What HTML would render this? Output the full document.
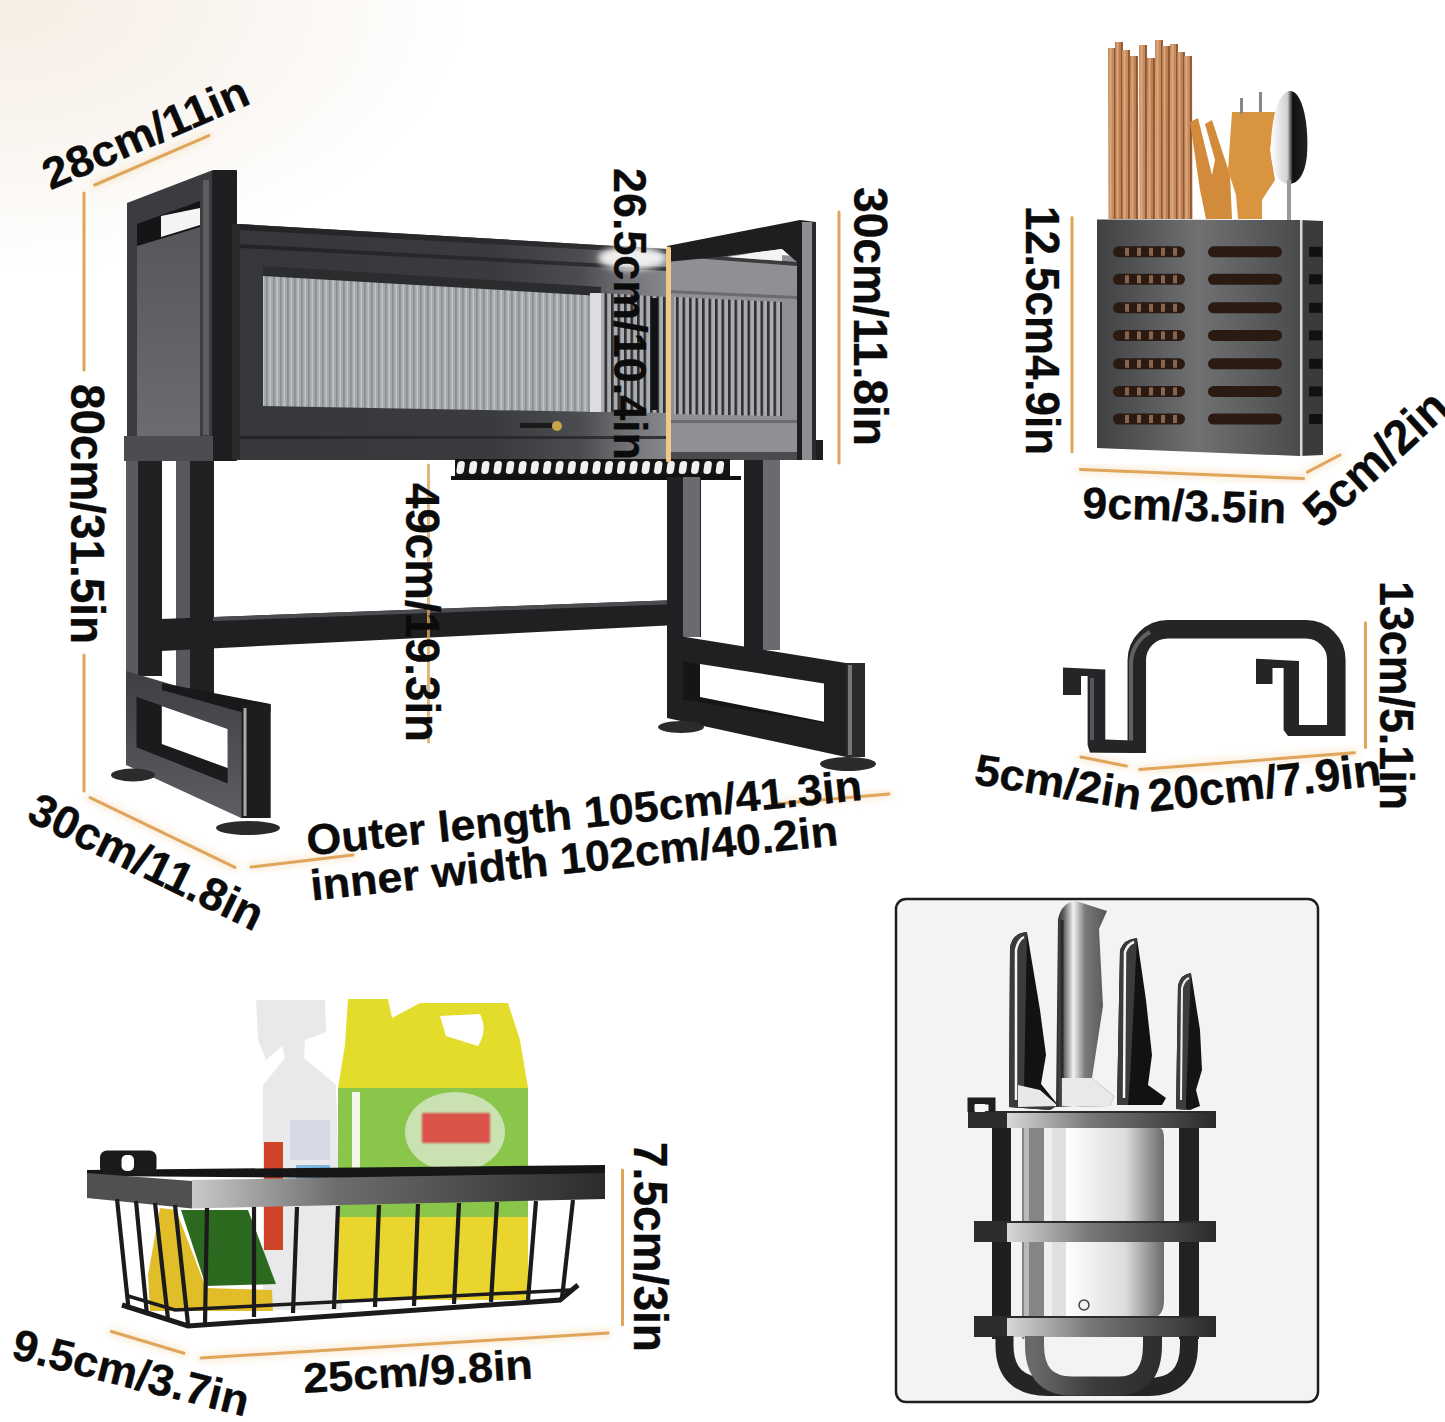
<!DOCTYPE html>
<html><head><meta charset="utf-8"><style>
html,body{margin:0;padding:0;background:#fff;}
svg{display:block;}
.t{font-family:"Liberation Sans",sans-serif;font-weight:bold;fill:#0b0b0b;stroke:#0b0b0b;stroke-width:0.35;}
</style></head><body>
<svg width="1445" height="1422" viewBox="0 0 1445 1422">

<defs>
 <radialGradient id="bgw" cx="0" cy="0" r="320" gradientUnits="userSpaceOnUse" gradientTransform="scale(1.45,0.85)">
  <stop offset="0" stop-color="#f6eee4"/>
  <stop offset="0.45" stop-color="#f9f4ee"/>
  <stop offset="1" stop-color="#ffffff"/>
 </radialGradient>
 <linearGradient id="panelL" x1="0" y1="0" x2="0" y2="1">
  <stop offset="0" stop-color="#55575a"/><stop offset="1" stop-color="#6a6c6f"/>
 </linearGradient>
 <linearGradient id="stripesG" x1="0" y1="0" x2="1" y2="0">
  <stop offset="0" stop-color="#9ea1a4"/><stop offset="0.85" stop-color="#b5b7ba"/><stop offset="1" stop-color="#d8d9da"/>
 </linearGradient>
 <pattern id="stripes" width="7" height="20" patternUnits="userSpaceOnUse">
  <rect width="7" height="20" fill="#a6a8ab"/>
  <rect x="0" width="1.6" height="20" fill="#8a8d90"/>
  <rect x="3.5" width="1.5" height="20" fill="#bfc1c3"/>
 </pattern>
 <pattern id="stripesR" width="6.5" height="20" patternUnits="userSpaceOnUse">
  <rect width="6.5" height="20" fill="#a9abae"/>
  <rect x="0" width="2.6" height="20" fill="#2e2f32"/>
 </pattern>
 <linearGradient id="boxG" x1="0" y1="0" x2="1" y2="0">
  <stop offset="0" stop-color="#3f4042"/><stop offset="0.5" stop-color="#707173"/><stop offset="1" stop-color="#4a4b4d"/>
 </linearGradient>
 <linearGradient id="spoonG" x1="0" y1="0" x2="1" y2="0">
  <stop offset="0" stop-color="#ffffff"/><stop offset="0.45" stop-color="#d0d0d0"/><stop offset="0.6" stop-color="#111"/><stop offset="1" stop-color="#222"/>
 </linearGradient>
 <linearGradient id="cleaverG" x1="0" y1="0" x2="1" y2="0">
  <stop offset="0" stop-color="#ffffff"/><stop offset="0.6" stop-color="#dcdcdc"/><stop offset="1" stop-color="#6a6a6a"/>
 </linearGradient>
 <linearGradient id="barG" x1="0" y1="0" x2="1" y2="0">
  <stop offset="0" stop-color="#d8d8d8"/><stop offset="0.4" stop-color="#777"/><stop offset="1" stop-color="#2a2a2a"/>
 </linearGradient>
 <linearGradient id="handleG" x1="0" y1="0" x2="1" y2="0">
  <stop offset="0" stop-color="#2a2a2a"/><stop offset="0.12" stop-color="#555"/><stop offset="0.3" stop-color="#f2f2f2"/><stop offset="0.5" stop-color="#7a7a7a"/><stop offset="1" stop-color="#4a4a4a"/>
 </linearGradient>
 <linearGradient id="rimG" x1="0" y1="0" x2="1" y2="0">
  <stop offset="0" stop-color="#c9c9c9"/><stop offset="0.35" stop-color="#6d6d6d"/><stop offset="1" stop-color="#2b2b2b"/>
 </linearGradient>
 <filter id="glow" x="-50%" y="-50%" width="200%" height="200%"><feGaussianBlur stdDeviation="3"/></filter>
 <filter id="blur1"><feGaussianBlur stdDeviation="1"/></filter>
</defs>

<rect width="1445" height="1422" fill="url(#bgw)"/>
<polygon points="127.0,203.0 213.0,170.0 237.0,170.0 237.0,461.0 124.0,461.0 124.0,436.0 127.0,436.0" fill="#3b3c3f" />
<polygon points="137.0,246.0 200.0,227.0 200.0,436.0 137.0,436.0" fill="url(#panelL)" />
<polygon points="137.0,224.0 200.0,201.0 200.0,227.0 137.0,246.0" fill="#141516" />
<polygon points="161.0,216.0 200.0,208.0 200.0,225.0 161.0,237.0" fill="#f4f4f4" />
<rect x="212" y="170" width="25" height="291" fill="#1d1e20" rx="3"/>
<rect x="203" y="180" width="6" height="255" fill="#5c5e61" />
<rect x="124" y="436" width="89" height="25" fill="#4c4d50" />
<linearGradient id="cabG" gradientUnits="userSpaceOnUse" x1="239" y1="0" x2="667" y2="0"><stop offset="0" stop-color="#36373a"/><stop offset="0.6" stop-color="#3a3b3e"/><stop offset="0.8" stop-color="#4c4d50"/><stop offset="0.9" stop-color="#6e7073"/><stop offset="1" stop-color="#86888b"/></linearGradient>
<linearGradient id="cabLine" gradientUnits="userSpaceOnUse" x1="239" y1="0" x2="667" y2="0"><stop offset="0" stop-color="#222325"/><stop offset="0.7" stop-color="#2a2b2d"/><stop offset="1" stop-color="#333436"/></linearGradient>
<polygon points="239.0,224.0 667.0,249.0 667.0,460.0 239.0,460.0" fill="url(#cabG)" />
<polygon points="239.0,224.0 667.0,249.0 667.0,254.0 239.0,230.0" fill="url(#cabLine)" />
<polygon points="239.0,244.0 667.0,267.0 667.0,271.0 239.0,248.0" fill="url(#cabLine)" />
<polygon points="263.0,272.0 601.0,293.0 601.0,412.0 263.0,406.0" fill="url(#stripes)" />
<polygon points="263.0,266.0 601.0,287.0 601.0,296.0 263.0,276.0" fill="#2b2c2e" />
<polygon points="601.0,293.0 667.0,297.0 667.0,413.0 601.0,412.0" fill="url(#stripesR)" />
<rect x="651" y="298" width="7" height="112" fill="#111214" />
<polygon points="590.0,293.0 601.0,293.0 601.0,412.0 590.0,412.0" fill="#dcdddf" />
<rect x="239" y="436" width="428" height="3" fill="url(#cabLine)" />
<circle cx="557" cy="426" r="5" fill="#c9a54a"/><rect x="520" y="423" width="32" height="5" fill="#1a1a1a"/>
<rect x="232" y="224" width="8" height="236" fill="#2a2b2d" />
<ellipse cx="632" cy="258" rx="34" ry="12" fill="#eeeeee" filter="url(#glow)"/>
<polygon points="667.0,249.0 797.0,256.0 797.0,460.0 667.0,460.0" fill="#8e9093" />
<polygon points="674.0,297.0 782.0,302.0 782.0,416.0 674.0,414.0" fill="url(#stripesR)" />
<polygon points="667.0,252.0 797.0,262.0 797.0,266.0 667.0,256.0" fill="#3a3b3d" />
<polygon points="667.0,290.0 797.0,296.0 797.0,299.0 667.0,293.0" fill="#6a6b6e" />
<rect x="667" y="420" width="130" height="3" fill="#6a6b6e" />
<rect x="667" y="452" width="130" height="8" fill="#4a4b4d" />
<polygon points="667.0,246.0 800.0,220.0 816.0,222.0 816.0,262.0 797.0,262.0 782.0,249.0 727.0,256.0 667.0,262.0" fill="#1d1e20" />
<polygon points="727.0,257.0 782.0,249.0 782.0,261.0" fill="#f4f4f4" />
<rect x="797" y="222" width="19" height="238" fill="#8c8e91" />
<rect x="797" y="222" width="5" height="238" fill="#1d1e20" />
<rect x="812" y="222" width="4" height="238" fill="#2a2b2d" />
<polygon points="816.0,440.0 823.0,440.0 823.0,460.0 816.0,460.0" fill="#1d1e20" />
<rect x="455" y="459" width="275" height="18" fill="#141414" />
<rect x="458.0" y="461" width="7.5" height="13" rx="3.5" fill="#f0f0f0" transform="skewX(-8) translate(64.6,0)"/>
<rect x="470.4" y="461" width="7.5" height="13" rx="3.5" fill="#f0f0f0" transform="skewX(-8) translate(64.6,0)"/>
<rect x="482.7" y="461" width="7.5" height="13" rx="3.5" fill="#f0f0f0" transform="skewX(-8) translate(64.6,0)"/>
<rect x="495.1" y="461" width="7.5" height="13" rx="3.5" fill="#f0f0f0" transform="skewX(-8) translate(64.6,0)"/>
<rect x="507.4" y="461" width="7.5" height="13" rx="3.5" fill="#f0f0f0" transform="skewX(-8) translate(64.6,0)"/>
<rect x="519.8" y="461" width="7.5" height="13" rx="3.5" fill="#f0f0f0" transform="skewX(-8) translate(64.6,0)"/>
<rect x="532.1" y="461" width="7.5" height="13" rx="3.5" fill="#f0f0f0" transform="skewX(-8) translate(64.6,0)"/>
<rect x="544.5" y="461" width="7.5" height="13" rx="3.5" fill="#f0f0f0" transform="skewX(-8) translate(64.6,0)"/>
<rect x="556.8" y="461" width="7.5" height="13" rx="3.5" fill="#f0f0f0" transform="skewX(-8) translate(64.6,0)"/>
<rect x="569.1" y="461" width="7.5" height="13" rx="3.5" fill="#f0f0f0" transform="skewX(-8) translate(64.6,0)"/>
<rect x="581.5" y="461" width="7.5" height="13" rx="3.5" fill="#f0f0f0" transform="skewX(-8) translate(64.6,0)"/>
<rect x="593.9" y="461" width="7.5" height="13" rx="3.5" fill="#f0f0f0" transform="skewX(-8) translate(64.6,0)"/>
<rect x="606.2" y="461" width="7.5" height="13" rx="3.5" fill="#f0f0f0" transform="skewX(-8) translate(64.6,0)"/>
<rect x="618.5" y="461" width="7.5" height="13" rx="3.5" fill="#f0f0f0" transform="skewX(-8) translate(64.6,0)"/>
<rect x="630.9" y="461" width="7.5" height="13" rx="3.5" fill="#f0f0f0" transform="skewX(-8) translate(64.6,0)"/>
<rect x="643.2" y="461" width="7.5" height="13" rx="3.5" fill="#f0f0f0" transform="skewX(-8) translate(64.6,0)"/>
<rect x="655.6" y="461" width="7.5" height="13" rx="3.5" fill="#f0f0f0" transform="skewX(-8) translate(64.6,0)"/>
<rect x="668.0" y="461" width="7.5" height="13" rx="3.5" fill="#f0f0f0" transform="skewX(-8) translate(64.6,0)"/>
<rect x="680.3" y="461" width="7.5" height="13" rx="3.5" fill="#f0f0f0" transform="skewX(-8) translate(64.6,0)"/>
<rect x="692.6" y="461" width="7.5" height="13" rx="3.5" fill="#f0f0f0" transform="skewX(-8) translate(64.6,0)"/>
<rect x="705.0" y="461" width="7.5" height="13" rx="3.5" fill="#f0f0f0" transform="skewX(-8) translate(64.6,0)"/>
<rect x="717.3" y="461" width="7.5" height="13" rx="3.5" fill="#f0f0f0" transform="skewX(-8) translate(64.6,0)"/>
<rect x="451" y="476" width="290" height="4" fill="#111" />
<rect x="126" y="461" width="36" height="215" fill="#5a5b5e" />
<rect x="138" y="461" width="24" height="215" fill="#202123" />
<rect x="176" y="461" width="38" height="240" fill="#58595c" />
<rect x="190" y="461" width="24" height="240" fill="#202123" />
<polygon points="161.0,619.0 677.0,600.0 677.0,625.0 161.0,651.0" fill="#1f2022" />
<polygon points="213.0,617.0 677.0,600.0 677.0,604.0 213.0,621.0" fill="#4b4c4f" />
<linearGradient id="baseL" x1="0" y1="0" x2="0" y2="1"><stop offset="0" stop-color="#3e3f42"/><stop offset="1" stop-color="#5d5e61"/></linearGradient>
<polygon points="126.0,671.0 241.0,705.0 270.5,704.0 270.5,818.0 241.0,818.0 126.0,765.0" fill="url(#baseL)" />
<polygon points="162.0,683.0 270.5,704.0 270.5,712.0 241.0,712.0 162.0,690.0" fill="#18191b" />
<polygon points="136.5,696.7 227.6,729.0 227.6,783.4 136.5,747.3" fill="#1a1b1d" />
<polygon points="161.8,706.0 227.6,729.0 227.6,768.0 161.8,744.0" fill="#ffffff" />
<rect x="241.5" y="705" width="29" height="113" fill="#1c1d1f" />
<rect x="243.5" y="708" width="3" height="108" fill="#a9aaac" />
<ellipse cx="248" cy="828" rx="32" ry="7" fill="#2a2b2d"/>
<ellipse cx="133" cy="775" rx="22" ry="6.5" fill="#2a2b2d"/>
<rect x="667" y="477" width="34" height="160" fill="#202123" />
<rect x="683" y="477" width="17" height="160" fill="#6a6b6e" />
<rect x="744" y="460" width="36" height="190" fill="#202123" />
<rect x="763" y="460" width="17" height="190" fill="#6a6b6e" />
<polygon points="667.0,634.0 846.0,663.0 865.0,663.0 865.0,757.0 846.0,757.0 667.0,718.0" fill="#1f2022" />
<polygon points="683.0,661.5 824.0,683.6 824.0,723.0 683.0,699.6" fill="#141516" />
<polygon points="700.0,664.0 824.0,683.6 824.0,721.7 700.0,697.0" fill="#ffffff" />
<rect x="846" y="663" width="19" height="94" fill="#2a2b2d" />
<rect x="848" y="665" width="4" height="90" fill="#777" />
<ellipse cx="681" cy="727" rx="23" ry="6" fill="#2a2b2d"/>
<ellipse cx="848" cy="764" rx="28" ry="7" fill="#2a2b2d"/>
<path d="M1108,48 L1116,48 L1116.5,219 L1108.5,219 Z" fill="#c68a5c"/>
<rect x="1109.5" y="48" width="2" height="171" fill="#e0b08a" opacity="0.8"/>
<rect x="1114" y="48" width="1.8" height="171" fill="#8e5631"/>
<path d="M1115,42 L1123,42 L1123.5,219 L1115.5,219 Z" fill="#bd7f51"/>
<rect x="1116.5" y="42" width="2" height="177" fill="#e0b08a" opacity="0.8"/>
<rect x="1121" y="42" width="1.8" height="177" fill="#8e5631"/>
<path d="M1122,50 L1130,50 L1130.5,219 L1122.5,219 Z" fill="#c68a5c"/>
<rect x="1123.5" y="50" width="2" height="169" fill="#e0b08a" opacity="0.8"/>
<rect x="1128" y="50" width="1.8" height="169" fill="#8e5631"/>
<path d="M1130,56 L1138,56 L1138.5,219 L1130.5,219 Z" fill="#bd7f51"/>
<rect x="1131.5" y="56" width="2" height="163" fill="#e0b08a" opacity="0.8"/>
<rect x="1136" y="56" width="1.8" height="163" fill="#8e5631"/>
<path d="M1139,45 L1147,45 L1147.5,219 L1139.5,219 Z" fill="#c68a5c"/>
<rect x="1140.5" y="45" width="2" height="174" fill="#e0b08a" opacity="0.8"/>
<rect x="1145" y="45" width="1.8" height="174" fill="#8e5631"/>
<path d="M1147,58 L1155,58 L1155.5,219 L1147.5,219 Z" fill="#bd7f51"/>
<rect x="1148.5" y="58" width="2" height="161" fill="#e0b08a" opacity="0.8"/>
<rect x="1153" y="58" width="1.8" height="161" fill="#8e5631"/>
<path d="M1155,40 L1163,40 L1163.5,219 L1155.5,219 Z" fill="#c68a5c"/>
<rect x="1156.5" y="40" width="2" height="179" fill="#e0b08a" opacity="0.8"/>
<rect x="1161" y="40" width="1.8" height="179" fill="#8e5631"/>
<path d="M1162,46 L1170,46 L1170.5,219 L1162.5,219 Z" fill="#bd7f51"/>
<rect x="1163.5" y="46" width="2" height="173" fill="#e0b08a" opacity="0.8"/>
<rect x="1168" y="46" width="1.8" height="173" fill="#8e5631"/>
<path d="M1170,44 L1178,44 L1178.5,219 L1170.5,219 Z" fill="#c68a5c"/>
<rect x="1171.5" y="44" width="2" height="175" fill="#e0b08a" opacity="0.8"/>
<rect x="1176" y="44" width="1.8" height="175" fill="#8e5631"/>
<path d="M1177,52 L1185,52 L1185.5,219 L1177.5,219 Z" fill="#bd7f51"/>
<rect x="1178.5" y="52" width="2" height="167" fill="#e0b08a" opacity="0.8"/>
<rect x="1183" y="52" width="1.8" height="167" fill="#8e5631"/>
<path d="M1184,56 L1192,56 L1192.5,219 L1184.5,219 Z" fill="#c68a5c"/>
<rect x="1185.5" y="56" width="2" height="163" fill="#e0b08a" opacity="0.8"/>
<rect x="1190" y="56" width="1.8" height="163" fill="#8e5631"/>
<path d="M1190,122 L1198,118 L1212,175 L1215,160 L1205,124 L1212,120 L1230,175 L1232,219 L1206,219 L1200,190 Z" fill="#d28b3a"/>
<path d="M1232,112 L1275,112 L1270,150 L1275,180 L1262,200 L1262,219 L1238,219 L1236,195 L1228,170 Z" fill="#d99440"/>
<rect x="1240" y="98" width="3" height="16" fill="#888"/><rect x="1259" y="92" width="3" height="20" fill="#888"/>
<path d="M1291,91 C1303,93 1309,125 1307,155 C1305,176 1297,184 1289,184 C1279,184 1271,172 1271,148 C1271,118 1279,90 1291,91 Z" fill="url(#spoonG)"/>
<rect x="1287" y="180" width="4" height="40" fill="#999"/>
<polygon points="1097.0,219.5 1300.0,220.0 1300.0,456.0 1097.0,448.0" fill="url(#boxG)" />
<polygon points="1300.0,220.0 1323.0,221.0 1323.0,455.0 1300.0,456.0" fill="#3a3b3d" />
<rect x="1300" y="220" width="2.5" height="236" fill="#d8d8d8" />
<rect x="1113" y="246.3" width="72" height="11" rx="5.5" fill="#2a1a12"/>
<rect x="1208" y="246.3" width="74" height="11" rx="5.5" fill="#2a1a12"/>
<rect x="1309" y="246.8" width="13" height="10" fill="#111"/>
<rect x="1125" y="247.8" width="4" height="8" fill="#a07860" opacity="0.8"/>
<rect x="1137" y="247.8" width="4" height="8" fill="#a07860" opacity="0.8"/>
<rect x="1149" y="247.8" width="4" height="8" fill="#a07860" opacity="0.8"/>
<rect x="1161" y="247.8" width="4" height="8" fill="#a07860" opacity="0.8"/>
<rect x="1173" y="247.8" width="4" height="8" fill="#a07860" opacity="0.8"/>
<rect x="1113" y="273.8" width="72" height="11" rx="5.5" fill="#2a1a12"/>
<rect x="1208" y="273.8" width="74" height="11" rx="5.5" fill="#2a1a12"/>
<rect x="1309" y="274.3" width="13" height="10" fill="#111"/>
<rect x="1125" y="275.3" width="4" height="8" fill="#a07860" opacity="0.8"/>
<rect x="1137" y="275.3" width="4" height="8" fill="#a07860" opacity="0.8"/>
<rect x="1149" y="275.3" width="4" height="8" fill="#a07860" opacity="0.8"/>
<rect x="1161" y="275.3" width="4" height="8" fill="#a07860" opacity="0.8"/>
<rect x="1173" y="275.3" width="4" height="8" fill="#a07860" opacity="0.8"/>
<rect x="1113" y="302.3" width="72" height="11" rx="5.5" fill="#2a1a12"/>
<rect x="1208" y="302.3" width="74" height="11" rx="5.5" fill="#2a1a12"/>
<rect x="1309" y="302.8" width="13" height="10" fill="#111"/>
<rect x="1125" y="303.8" width="4" height="8" fill="#a07860" opacity="0.8"/>
<rect x="1137" y="303.8" width="4" height="8" fill="#a07860" opacity="0.8"/>
<rect x="1149" y="303.8" width="4" height="8" fill="#a07860" opacity="0.8"/>
<rect x="1161" y="303.8" width="4" height="8" fill="#a07860" opacity="0.8"/>
<rect x="1173" y="303.8" width="4" height="8" fill="#a07860" opacity="0.8"/>
<rect x="1113" y="329.9" width="72" height="11" rx="5.5" fill="#2a1a12"/>
<rect x="1208" y="329.9" width="74" height="11" rx="5.5" fill="#2a1a12"/>
<rect x="1309" y="330.4" width="13" height="10" fill="#111"/>
<rect x="1125" y="331.4" width="4" height="8" fill="#a07860" opacity="0.8"/>
<rect x="1137" y="331.4" width="4" height="8" fill="#a07860" opacity="0.8"/>
<rect x="1149" y="331.4" width="4" height="8" fill="#a07860" opacity="0.8"/>
<rect x="1161" y="331.4" width="4" height="8" fill="#a07860" opacity="0.8"/>
<rect x="1173" y="331.4" width="4" height="8" fill="#a07860" opacity="0.8"/>
<rect x="1113" y="358.3" width="72" height="11" rx="5.5" fill="#2a1a12"/>
<rect x="1208" y="358.3" width="74" height="11" rx="5.5" fill="#2a1a12"/>
<rect x="1309" y="358.8" width="13" height="10" fill="#111"/>
<rect x="1125" y="359.8" width="4" height="8" fill="#a07860" opacity="0.8"/>
<rect x="1137" y="359.8" width="4" height="8" fill="#a07860" opacity="0.8"/>
<rect x="1149" y="359.8" width="4" height="8" fill="#a07860" opacity="0.8"/>
<rect x="1161" y="359.8" width="4" height="8" fill="#a07860" opacity="0.8"/>
<rect x="1173" y="359.8" width="4" height="8" fill="#a07860" opacity="0.8"/>
<rect x="1113" y="385.9" width="72" height="11" rx="5.5" fill="#2a1a12"/>
<rect x="1208" y="385.9" width="74" height="11" rx="5.5" fill="#2a1a12"/>
<rect x="1309" y="386.4" width="13" height="10" fill="#111"/>
<rect x="1125" y="387.4" width="4" height="8" fill="#a07860" opacity="0.8"/>
<rect x="1137" y="387.4" width="4" height="8" fill="#a07860" opacity="0.8"/>
<rect x="1149" y="387.4" width="4" height="8" fill="#a07860" opacity="0.8"/>
<rect x="1161" y="387.4" width="4" height="8" fill="#a07860" opacity="0.8"/>
<rect x="1173" y="387.4" width="4" height="8" fill="#a07860" opacity="0.8"/>
<rect x="1113" y="413.5" width="72" height="11" rx="5.5" fill="#2a1a12"/>
<rect x="1208" y="413.5" width="74" height="11" rx="5.5" fill="#2a1a12"/>
<rect x="1309" y="414.0" width="13" height="10" fill="#111"/>
<rect x="1125" y="415.0" width="4" height="8" fill="#a07860" opacity="0.8"/>
<rect x="1137" y="415.0" width="4" height="8" fill="#a07860" opacity="0.8"/>
<rect x="1149" y="415.0" width="4" height="8" fill="#a07860" opacity="0.8"/>
<rect x="1161" y="415.0" width="4" height="8" fill="#a07860" opacity="0.8"/>
<rect x="1173" y="415.0" width="4" height="8" fill="#a07860" opacity="0.8"/>
<linearGradient id="hookG" x1="0" y1="0" x2="1" y2="0"><stop offset="0" stop-color="#3a3b3d"/><stop offset="0.3" stop-color="#77787b"/><stop offset="1" stop-color="#2a2b2d"/></linearGradient>
<path d="M1136.8,753 V660 A31,31 0 0 1 1167.8,629.3 H1306 A30.3,30.3 0 0 1 1336.3,659.6 V736" fill="none" stroke="#242527" stroke-width="18.5"/>
<path d="M1131,750 V662 A37,37 0 0 1 1150,632" fill="none" stroke="#6f7073" stroke-width="4" opacity="0.8"/>
<polygon points="1063.0,667.5 1105.3,669.5 1105.3,739.5 1146.0,741.0 1146.0,753.0 1090.0,752.8 1087.6,745.0 1087.6,676.0 1081.0,676.0 1081.0,695.0 1063.0,695.0" fill="#242527" />
<polygon points="1256.0,658.7 1299.0,661.0 1299.0,725.0 1345.0,725.0 1345.0,736.0 1288.0,736.0 1283.6,730.0 1283.6,668.0 1272.5,668.0 1272.5,684.0 1256.0,684.0" fill="#242527" />
<rect x="1090" y="678" width="4" height="62" fill="#55565a" />
<rect x="896" y="899" width="422" height="503" rx="10" fill="#f3f3f3" stroke="#1e1e1e" stroke-width="2.5"/>
<path d="M1066,1128 L1160,1128 Q1164,1128 1164,1140 L1164,1300 Q1164,1318 1150,1318 L1066,1318 Z" fill="url(#cleaverG)"/>
<circle cx="1084" cy="1305" r="5" fill="#f3f3f3" stroke="#444" stroke-width="1.5"/>
<rect x="992" y="1127" width="19" height="212" fill="#1f1f1f" />
<rect x="1022" y="1127" width="22" height="212" fill="#858585" />
<rect x="1024" y="1127" width="5" height="212" fill="#b9b9b9" />
<rect x="1044" y="1127" width="8" height="190" fill="#f0f0f0" />
<rect x="1052" y="1127" width="14" height="190" fill="#e0e0e0" />
<rect x="1179" y="1127" width="20" height="212" fill="#222" />
<rect x="1165" y="1127" width="8" height="190" fill="#f2f2f2" />
<path d="M1009,1107 L1010,948 Q1012,933 1027,932 L1040,1010 L1046,1055 L1041,1084 L1058,1105 L1050,1110 Z" fill="#121212"/>
<path d="M1009,1107 L1010,948 Q1012,933 1027,932 L1024,1090 L1058,1105 L1050,1110 Z" fill="#3b3b3b"/>
<path d="M1016,1100 L1016,950 Q1018,940 1024,937" fill="none" stroke="#f5f5f5" stroke-width="2.5"/>
<path d="M1018,1085 L1040,1090 L1058,1106 L1018,1107 Z" fill="#e8e8e8"/>
<path d="M1056,1107 L1058,919 Q1062,902 1076,901 L1107,911 L1099,929 L1103,1006 L1092,1078 L1114,1096 L1110,1106 Z" fill="url(#handleG)"/>
<path d="M1062,1078 L1092,1078 L1114,1096 L1110,1106 L1062,1106 Z" fill="#e9e9e9"/>
<path d="M1062,1078 L1062,920" fill="none" stroke="#2a2a2a" stroke-width="3"/>
<path d="M1117,1105 L1120,950 Q1124,939 1137,938 L1146,1000 L1152,1055 L1148,1085 L1166,1098 L1162,1105 Z" fill="#121212"/>
<path d="M1117,1105 L1120,950 Q1124,939 1137,938 L1130,1080 L1128,1105 Z" fill="#3b3b3b"/>
<path d="M1124,1098 L1125,952 Q1128,944 1134,942" fill="none" stroke="#f5f5f5" stroke-width="2.5"/>
<path d="M1176,1109 L1178,985 Q1181,974 1191,973 L1200,1030 L1202,1070 L1196,1090 L1200,1106 L1190,1110 Z" fill="#141414"/>
<path d="M1176,1109 L1178,985 Q1181,974 1191,973 L1186,1100 L1186,1110 Z" fill="#3d3d3d"/>
<path d="M1181,1100 L1182,988 Q1184,980 1189,978" fill="none" stroke="#eeeeee" stroke-width="2"/>
<rect x="968" y="1111" width="248" height="17" fill="#2c2c2c" />
<rect x="1007" y="1113" width="209" height="15" fill="url(#barG)" />
<rect x="974" y="1221" width="242" height="21" fill="#2c2c2c" />
<rect x="1007" y="1223" width="209" height="19" fill="url(#barG)" />
<rect x="974" y="1316" width="242" height="21" fill="#2c2c2c" />
<rect x="1007" y="1318" width="209" height="19" fill="url(#barG)" />
<path d="M971,1112 L971,1101 L992,1101 L992,1112" fill="none" stroke="#1e1e1e" stroke-width="7"/>
<rect x="975" y="1104" width="10" height="8" fill="#f5f5f5"/>
<linearGradient id="loopG" x1="0" y1="0" x2="1" y2="0"><stop offset="0" stop-color="#6a6a6a"/><stop offset="0.5" stop-color="#3c3c3c"/><stop offset="1" stop-color="#2e2e2e"/></linearGradient>
<path d="M1004.5,1336 V1345 Q1004.5,1387 1048,1387 H1148 Q1189,1387 1189,1345 V1336" fill="none" stroke="#252525" stroke-width="18"/>
<path d="M1034.5,1336 V1345 Q1034.5,1386 1072,1386 H1118 Q1152.5,1386 1152.5,1345 V1336" fill="none" stroke="url(#loopG)" stroke-width="19"/>
<path d="M256,1000 L325,1000 L326,1032 L305,1040 L304,1058 L336,1085 L342,1310 L263,1310 L263,1085 L285,1058 L282,1046 L266,1060 L258,1040 Z" fill="#e9e9ec"/>
<rect x="264" y="1142" width="19" height="108" fill="#cf4428" />
<rect x="296" y="1165" width="34" height="15" fill="#7db8e2" />
<rect x="290" y="1120" width="40" height="40" fill="#c9cde0" opacity="0.6"/>
<path d="M348,999 L388,999 L392,1018 L420,1003 L508,1003 L520,1040 L528,1088 L528,1300 L338,1300 L338,1088 L345,1045 Z" fill="#e4dc2a"/>
<path d="M440,1016 L480,1014 Q488,1030 478,1046 L446,1036 Z" fill="#ffffff"/>
<rect x="338" y="1088" width="190" height="129" fill="#8ac64a" />
<rect x="352" y="1092" width="8" height="85" fill="#f2f7e8" />
<ellipse cx="455" cy="1132" rx="50" ry="40" fill="#dfe9d6" opacity="0.75"/>
<rect x="422" y="1113" width="68" height="30" fill="#d9534a" filter="url(#blur1)"/>
<rect x="338" y="1217" width="190" height="83" fill="#e9d52e" />
<path d="M148,1275 L160,1208 L176,1210 L206,1288 L272,1290 L273,1311 L150,1311 Z" fill="#e2bd2a"/>
<path d="M181,1210 L248,1210 L276,1284 L206,1286 Z" fill="#2b6a1f"/>
<polygon points="87.0,1170.0 605.0,1165.0 605.0,1180.0 87.0,1176.0" fill="#161616" />
<rect x="100" y="1150.5" width="56.5" height="24" rx="7" fill="#1a1a1a"/>
<rect x="121.5" y="1155" width="12.5" height="16" rx="5" fill="#ffffff"/>
<polygon points="87.0,1173.0 192.0,1181.0 192.0,1208.5 87.0,1198.0" fill="#4f5052" />
<polygon points="192.0,1180.0 605.0,1173.0 605.0,1199.0 192.0,1208.5" fill="url(#rimG)" />
<line x1="117" y1="1199" x2="128.6" y2="1309" stroke="#1b1b1d" stroke-width="4.2"/>
<line x1="136" y1="1201" x2="147" y2="1315" stroke="#1b1b1d" stroke-width="4.2"/>
<line x1="155" y1="1203" x2="168" y2="1319" stroke="#1b1b1d" stroke-width="4.2"/>
<line x1="175" y1="1205" x2="188" y2="1324" stroke="#1b1b1d" stroke-width="4.2"/>
<line x1="207" y1="1208" x2="205" y2="1324" stroke="#1b1b1d" stroke-width="4.2"/>
<line x1="254" y1="1207" x2="254" y2="1317" stroke="#1b1b1d" stroke-width="4.2"/>
<line x1="297" y1="1207" x2="293" y2="1313" stroke="#1b1b1d" stroke-width="4.2"/>
<line x1="338" y1="1206" x2="334" y2="1309" stroke="#1b1b1d" stroke-width="4.2"/>
<line x1="379" y1="1205" x2="375" y2="1307" stroke="#1b1b1d" stroke-width="4.2"/>
<line x1="418" y1="1204" x2="414" y2="1306" stroke="#1b1b1d" stroke-width="4.2"/>
<line x1="459" y1="1203" x2="454" y2="1304" stroke="#1b1b1d" stroke-width="4.2"/>
<line x1="497" y1="1202" x2="491" y2="1302" stroke="#1b1b1d" stroke-width="4.2"/>
<line x1="536" y1="1201" x2="528" y2="1300" stroke="#1b1b1d" stroke-width="4.2"/>
<line x1="573" y1="1200" x2="562" y2="1298" stroke="#1b1b1d" stroke-width="4.2"/>
<path d="M122,1305 L188,1326 L560,1300 L578,1285" fill="none" stroke="#1b1b1d" stroke-width="5"/>
<path d="M128,1296 L175,1310 L570,1290" fill="none" stroke="#1b1b1d" stroke-width="3.5"/>
<line x1="94.7" y1="185" x2="208.9" y2="135.6" stroke="#f7e6cc" stroke-width="9" stroke-linecap="round" opacity="0.7" filter="url(#glow)"/>
<line x1="94.7" y1="185" x2="208.9" y2="135.6" stroke="#dfa55a" stroke-width="3" stroke-linecap="round" opacity="1"/>
<line x1="84" y1="193" x2="84" y2="370" stroke="#f7e6cc" stroke-width="9" stroke-linecap="round" opacity="0.7" filter="url(#glow)"/>
<line x1="84" y1="193" x2="84" y2="370" stroke="#dfa55a" stroke-width="3" stroke-linecap="round" opacity="1"/>
<line x1="84" y1="655" x2="84" y2="791" stroke="#f7e6cc" stroke-width="9" stroke-linecap="round" opacity="0.7" filter="url(#glow)"/>
<line x1="84" y1="655" x2="84" y2="791" stroke="#dfa55a" stroke-width="3" stroke-linecap="round" opacity="1"/>
<line x1="90" y1="797.7" x2="235" y2="867.3" stroke="#f7e6cc" stroke-width="9" stroke-linecap="round" opacity="0.7" filter="url(#glow)"/>
<line x1="90" y1="797.7" x2="235" y2="867.3" stroke="#dfa55a" stroke-width="3" stroke-linecap="round" opacity="1"/>
<line x1="251" y1="867" x2="353" y2="855" stroke="#f7e6cc" stroke-width="9" stroke-linecap="round" opacity="0.7" filter="url(#glow)"/>
<line x1="251" y1="867" x2="353" y2="855" stroke="#dfa55a" stroke-width="3" stroke-linecap="round" opacity="1"/>
<line x1="775" y1="804" x2="889" y2="794" stroke="#f7e6cc" stroke-width="9" stroke-linecap="round" opacity="0.7" filter="url(#glow)"/>
<line x1="775" y1="804" x2="889" y2="794" stroke="#dfa55a" stroke-width="3" stroke-linecap="round" opacity="1"/>
<line x1="428.5" y1="465" x2="428.5" y2="742" stroke="#f7e6cc" stroke-width="9" stroke-linecap="round" opacity="0.7" filter="url(#glow)"/>
<line x1="428.5" y1="465" x2="428.5" y2="742" stroke="#dfa55a" stroke-width="3" stroke-linecap="round" opacity="0.8"/>
<line x1="668.5" y1="249" x2="668.5" y2="460" stroke="#f7e6cc" stroke-width="11" stroke-linecap="round" opacity="0.7" filter="url(#glow)"/>
<line x1="668.5" y1="249" x2="668.5" y2="460" stroke="#f0c88a" stroke-width="5" stroke-linecap="round" opacity="1"/>
<line x1="839" y1="212" x2="839" y2="463" stroke="#f7e6cc" stroke-width="9" stroke-linecap="round" opacity="0.7" filter="url(#glow)"/>
<line x1="839" y1="212" x2="839" y2="463" stroke="#dfa55a" stroke-width="3" stroke-linecap="round" opacity="1"/>
<line x1="1072" y1="217.6" x2="1072" y2="452" stroke="#f7e6cc" stroke-width="9" stroke-linecap="round" opacity="0.7" filter="url(#glow)"/>
<line x1="1072" y1="217.6" x2="1072" y2="452" stroke="#dfa55a" stroke-width="3" stroke-linecap="round" opacity="1"/>
<line x1="1080.4" y1="469.5" x2="1303.6" y2="478.6" stroke="#f7e6cc" stroke-width="9" stroke-linecap="round" opacity="0.7" filter="url(#glow)"/>
<line x1="1080.4" y1="469.5" x2="1303.6" y2="478.6" stroke="#dfa55a" stroke-width="3" stroke-linecap="round" opacity="1"/>
<line x1="1307.5" y1="472" x2="1340" y2="455" stroke="#f7e6cc" stroke-width="9" stroke-linecap="round" opacity="0.7" filter="url(#glow)"/>
<line x1="1307.5" y1="472" x2="1340" y2="455" stroke="#dfa55a" stroke-width="3" stroke-linecap="round" opacity="1"/>
<line x1="1365.5" y1="622.7" x2="1365.5" y2="747.5" stroke="#f7e6cc" stroke-width="9" stroke-linecap="round" opacity="0.7" filter="url(#glow)"/>
<line x1="1365.5" y1="622.7" x2="1365.5" y2="747.5" stroke="#dfa55a" stroke-width="3" stroke-linecap="round" opacity="1"/>
<line x1="1081" y1="757" x2="1126.4" y2="766" stroke="#f7e6cc" stroke-width="9" stroke-linecap="round" opacity="0.7" filter="url(#glow)"/>
<line x1="1081" y1="757" x2="1126.4" y2="766" stroke="#dfa55a" stroke-width="3" stroke-linecap="round" opacity="1"/>
<line x1="1139.6" y1="769.4" x2="1354.4" y2="752.8" stroke="#f7e6cc" stroke-width="9" stroke-linecap="round" opacity="0.7" filter="url(#glow)"/>
<line x1="1139.6" y1="769.4" x2="1354.4" y2="752.8" stroke="#dfa55a" stroke-width="3" stroke-linecap="round" opacity="1"/>
<line x1="622.5" y1="1170" x2="622.5" y2="1324.7" stroke="#f7e6cc" stroke-width="9" stroke-linecap="round" opacity="0.7" filter="url(#glow)"/>
<line x1="622.5" y1="1170" x2="622.5" y2="1324.7" stroke="#dfa55a" stroke-width="3" stroke-linecap="round" opacity="1"/>
<line x1="111.4" y1="1331.5" x2="184" y2="1353.3" stroke="#f7e6cc" stroke-width="9" stroke-linecap="round" opacity="0.7" filter="url(#glow)"/>
<line x1="111.4" y1="1331.5" x2="184" y2="1353.3" stroke="#dfa55a" stroke-width="3" stroke-linecap="round" opacity="1"/>
<line x1="201" y1="1358" x2="608" y2="1333" stroke="#f7e6cc" stroke-width="9" stroke-linecap="round" opacity="0.7" filter="url(#glow)"/>
<line x1="201" y1="1358" x2="608" y2="1333" stroke="#dfa55a" stroke-width="3" stroke-linecap="round" opacity="1"/>
<text x="0" y="0" transform="translate(50.5,190.5) rotate(-23.40)" font-size="44" textLength="220.0" lengthAdjust="spacingAndGlyphs" class="t" >28cm/11in</text>
<text x="0" y="0" transform="translate(70.6,384.0) rotate(90.00)" font-size="48" textLength="260.0" lengthAdjust="spacingAndGlyphs" class="t" >80cm/31.5in</text>
<text x="0" y="0" transform="translate(614.0,168.0) rotate(90.00)" font-size="46" textLength="292.0" lengthAdjust="spacingAndGlyphs" class="t" >26.5cm/10.4in</text>
<text x="0" y="0" transform="translate(854.0,187.0) rotate(90.00)" font-size="48" textLength="259.0" lengthAdjust="spacingAndGlyphs" class="t" >30cm/11.8in</text>
<text x="0" y="0" transform="translate(405.5,483.0) rotate(90.00)" font-size="48" textLength="259.0" lengthAdjust="spacingAndGlyphs" class="t" >49cm/19.3in</text>
<text x="0" y="0" transform="translate(25.0,820.0) rotate(26.00)" font-size="46" textLength="255.0" lengthAdjust="spacingAndGlyphs" class="t" >30cm/11.8in</text>
<text x="0" y="0" transform="translate(308.0,855.5) rotate(-5.73)" font-size="43" textLength="558.0" lengthAdjust="spacingAndGlyphs" class="t" >Outer length 105cm/41.3in</text>
<text x="0" y="0" transform="translate(312.0,900.5) rotate(-6.00)" font-size="43" textLength="530.0" lengthAdjust="spacingAndGlyphs" class="t" >inner width 102cm/40.2in</text>
<text x="0" y="0" transform="translate(1026.0,206.0) rotate(90.00)" font-size="48" textLength="249.0" lengthAdjust="spacingAndGlyphs" class="t" >12.5cm4.9in</text>
<text x="0" y="0" transform="translate(1082.0,518.0) rotate(1.50)" font-size="44" textLength="204.0" lengthAdjust="spacingAndGlyphs" class="t" >9cm/3.5in</text>
<text x="0" y="0" transform="translate(1322.0,530.0) rotate(-42.50)" font-size="48" textLength="176.0" lengthAdjust="spacingAndGlyphs" class="t" >5cm/2in</text>
<text x="0" y="0" transform="translate(1380.0,581.0) rotate(90.00)" font-size="48" textLength="229.0" lengthAdjust="spacingAndGlyphs" class="t" >13cm/5.1in</text>
<text x="0" y="0" transform="translate(973.0,784.0) rotate(9.00)" font-size="44" textLength="168.0" lengthAdjust="spacingAndGlyphs" class="t" >5cm/2in</text>
<text x="0" y="0" transform="translate(1150.0,812.0) rotate(-6.70)" font-size="46" textLength="234.0" lengthAdjust="spacingAndGlyphs" class="t" >20cm/7.9in</text>
<text x="0" y="0" transform="translate(634.0,1142.0) rotate(90.00)" font-size="48" textLength="210.0" lengthAdjust="spacingAndGlyphs" class="t" >7.5cm/3in</text>
<text x="0" y="0" transform="translate(10.0,1358.0) rotate(14.00)" font-size="44" textLength="242.0" lengthAdjust="spacingAndGlyphs" class="t" >9.5cm/3.7in</text>
<text x="0" y="0" transform="translate(304.0,1393.0) rotate(-3.60)" font-size="42" textLength="230.0" lengthAdjust="spacingAndGlyphs" class="t" >25cm/9.8in</text>
</svg>
</body></html>
